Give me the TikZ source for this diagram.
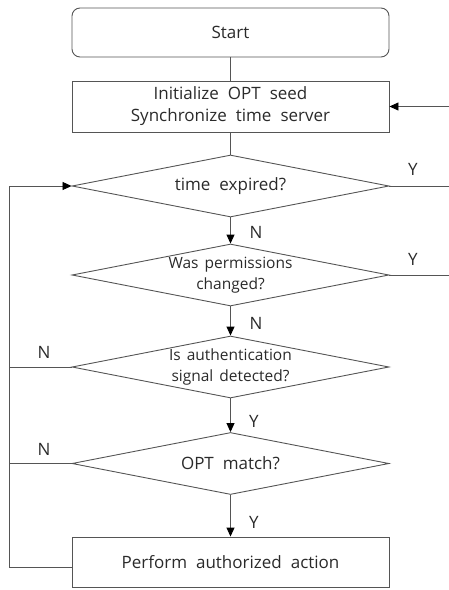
\documentclass[tikz,border=0pt]{standalone}
\usepackage{fontspec}
\setmainfont{Open Sans}
\usetikzlibrary{shapes.geometric,arrows.meta}
\definecolor{linec}{HTML}{555555}
\definecolor{txt}{HTML}{2a2a2a}
\begin{document}
\begin{tikzpicture}[x=1pt,y=1pt,
  font={\fontsize{17}{22}\selectfont\spaceskip=9pt plus 1pt minus 1pt},
  box/.style={draw=linec, line width=0.9pt, minimum width=317pt, inner sep=0pt, text=txt, align=center},
  dia/.style={draw=linec, line width=0.9pt, diamond, aspect=5, minimum width=317pt, minimum height=62pt, inner sep=0pt, align=center, text=txt},
  small/.style={font={\fontsize{15.5}{21}\selectfont\spaceskip=6pt plus 1pt minus 1pt}},
  conn/.style={draw=linec, line width=0.9pt},
  arr/.style={conn, -{Triangle[length=9pt,width=8pt,color=black]}},
  lab/.style={text=txt, inner sep=0pt}]
\useasboundingbox (0,0) rectangle (449,-590);
\node[box, rounded corners=8pt, minimum height=49pt] (start) at (230.5,-32.5) {Start};
\node[box, minimum height=51pt] (init) at (230.5,-106.5) {Initialize OPT seed\\Synchronize time server};
\node[dia] (d1) at (230.5,-186) {time expired?};
\node[dia, small] (d2) at (230.5,-275) {Was permissions\\changed?};
\node[dia, small] (d3) at (230.5,-367) {Is authentication\\signal detected?};
\node[dia] (d4) at (230.5,-463.5) {OPT match?};
\node[box, minimum height=50pt] (act) at (230.5,-562) {Perform authorized action};

\coordinate (rin) at (449,-106.5);
\coordinate (r1) at (449,-186);
\coordinate (r2) at (449,-275);
\coordinate (lt) at (9,-186);
\coordinate (l3) at (9,-367);
\coordinate (l4) at (9,-463.5);
\coordinate (lb) at (9,-567);

\draw[conn] (start) -- (init);
\draw[conn] (init) -- (d1);
\draw[arr] (d1) -- (d2);
\draw[arr] (d2) -- (d3);
\draw[arr] (d3) -- (d4);
\draw[arr] (d4) -- (act);
\draw[arr] (rin) -- (init);
\draw[conn] (d1) -- (r1);
\draw[conn] (d2) -- (r2);
\draw[arr] ([yshift=-5pt]act.west) -- (lb) -- (lt) -- (d1);
\draw[conn] (d3) -- (l3);
\draw[conn] (d4) -- (l4);

\node[lab] (y1) at (413,-169) {Y};
\node[lab] (y2) at (413,-259) {Y};
\node[lab] (n1) at (256,-232) {N};
\node[lab] (n2) at (256,-323) {N};
\node[lab] (n3) at (44,-352) {N};
\node[lab] (y3) at (254,-421) {Y};
\node[lab] (n4) at (44,-449) {N};
\node[lab] (y4) at (254,-522) {Y};
\end{tikzpicture}
\end{document}
